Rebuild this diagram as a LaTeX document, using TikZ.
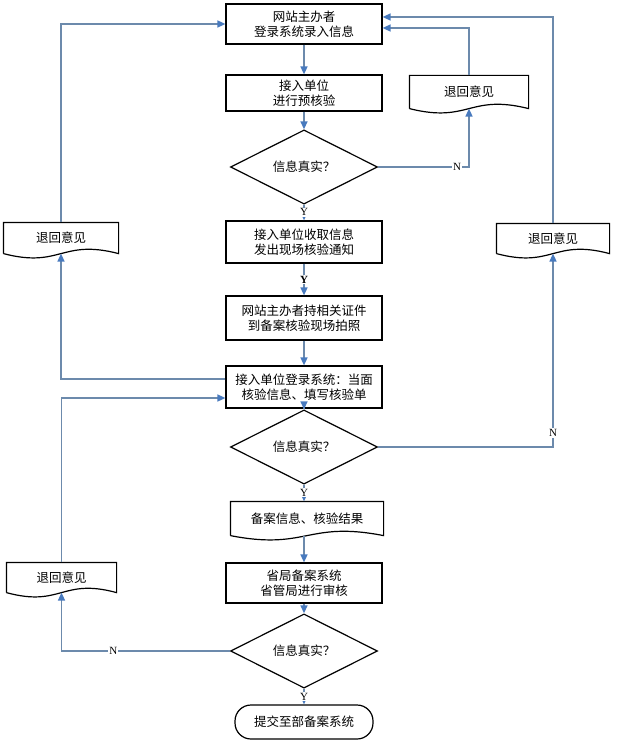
\documentclass[tikz,border=0pt]{standalone}
\usepackage{fontspec}
\setmainfont{Liberation Serif}
\newfontfamily\cjk{Noto Sans CJK SC}
\usepackage{tikz}
\usetikzlibrary{shapes.geometric}
\usetikzlibrary{positioning}
\usetikzlibrary{calc}
\usetikzlibrary{arrows.meta}
\definecolor{linecol}{RGB}{108,138,172}
\definecolor{tipcol}{RGB}{72,122,190}
\tikzset{every picture/.style={line width=1.2pt},
  stepbox/.style={rectangle,draw,minimum width=156pt,inner sep=2pt,align=center,font=\cjk\fontsize{12.5}{15}\selectfont},
  decision/.style={diamond,draw,minimum width=147pt,inner sep=0pt,font=\cjk\fontsize{12.5}{15}\selectfont},
  docbox/.style={rectangle,inner sep=0pt,font=\cjk\fontsize{12.5}{15}\selectfont},
  endbox/.style={rectangle,draw,rounded corners=16pt,minimum width=138pt,minimum height=34pt,font=\cjk\fontsize{12.5}{15}\selectfont},
  flow/.style={draw=linecol,line width=1.5pt,-{Triangle[length=8pt,width=7pt,color=tipcol]}},
  yn/.style={fill=white,inner sep=1pt,font=\fontsize{11}{11}\selectfont}}

\begin{document}
\begin{tikzpicture}[x=1pt,y=-1pt]
\useasboundingbox (0,0) rectangle (617,746);
% main column
\node (b1) at (304,24) [stepbox,minimum height=40pt] {网站主办者\\登录系统录入信息};
\node (b2) at (304,93) [stepbox,minimum height=36pt] {接入单位\\进行预核验};
\node (d1) at (304,167) [decision,minimum height=50pt] {信息真实？};
\node (b3) at (304,242) [stepbox,minimum height=42pt] {接入单位收取信息\\发出现场核验通知};
\node (b4) at (304,318) [stepbox,minimum height=44pt] {网站主办者持相关证件\\到备案核验现场拍照};
\node (b5) at (304,387) [stepbox,minimum height=42pt] {接入单位登录系统：当面\\核验信息、填写核验单};
\node (d2) at (304,447) [decision,minimum height=51pt] {信息真实？};
\node (dc) at (307,518.5) [docbox,minimum width=152pt,minimum height=33pt] {备案信息、核验结果};
\node (b6) at (304,583) [stepbox,minimum height=40pt] {省局备案系统\\省管局进行审核};
\node (d3) at (304,651) [decision,minimum height=48pt] {信息真实？};
\node (t) at (304,722) [endbox] {提交至部备案系统};
% return notes
\node (r1) at (469,92) [docbox,minimum width=118pt,minimum height=32pt] {退回意见};
\node (r2) at (553,238.5) [docbox,minimum width=112pt,minimum height=29pt] {退回意见};
\node (l1) at (61,238) [docbox,minimum width=114pt,minimum height=30pt] {退回意见};
\node (l3) at (61.5,577.5) [docbox,minimum width=109pt,minimum height=29pt] {退回意见};

\foreach \d in {r1, r2, l1, l3, dc} {
\draw (\d.south west) -- (\d.north west) -- (\d.north east) -- (\d.south east) .. controls ($(\d.south)+(0,-15)$) and ($(\d.south)+(0,15)$) .. (\d.south west);
}

\draw[flow] (b1) -- (b2);
\draw[flow] (b2) -- (d1);
\draw[flow] (d1) -- node[yn,pos=0.48] {Y} (b3);
\draw[flow] (b3) -- node[yn] {\textbf{Y}} (b4);
\draw[flow] (b4) -- (b5);
\draw[flow] (b5) -- (d2);
\draw[flow] (d2.south) -- node[yn,pos=0.48] {Y} (d2.south |- dc.north);
\draw[flow] (dc.south -| b6.north) -- (b6);
\draw[flow] (b6) -- (d3);
\draw[flow] (d3) -- node[yn] {Y} (t);

\draw[flow] (d1.east) -| node[yn,pos=0.435] {N} (r1.south);
\draw[flow] (r1.north) |- ([yshift=-4pt]b1.east);
\draw[flow] (d2.east) -| node[yn,pos=0.536] {N} (r2.south);
\draw[flow] (r2.north) |- ([yshift=7pt]b1.east);
\draw[flow] ([yshift=8pt]b5.west) -| (l1.south);
\draw[flow] (l1.north) |- (b1.west);
\draw[flow] (d3.west) -| node[yn,pos=0.346] {N} (l3.south);
\draw[flow] (l3.north) |- ([yshift=-11pt]b5.west);
\end{tikzpicture}
\end{document}
